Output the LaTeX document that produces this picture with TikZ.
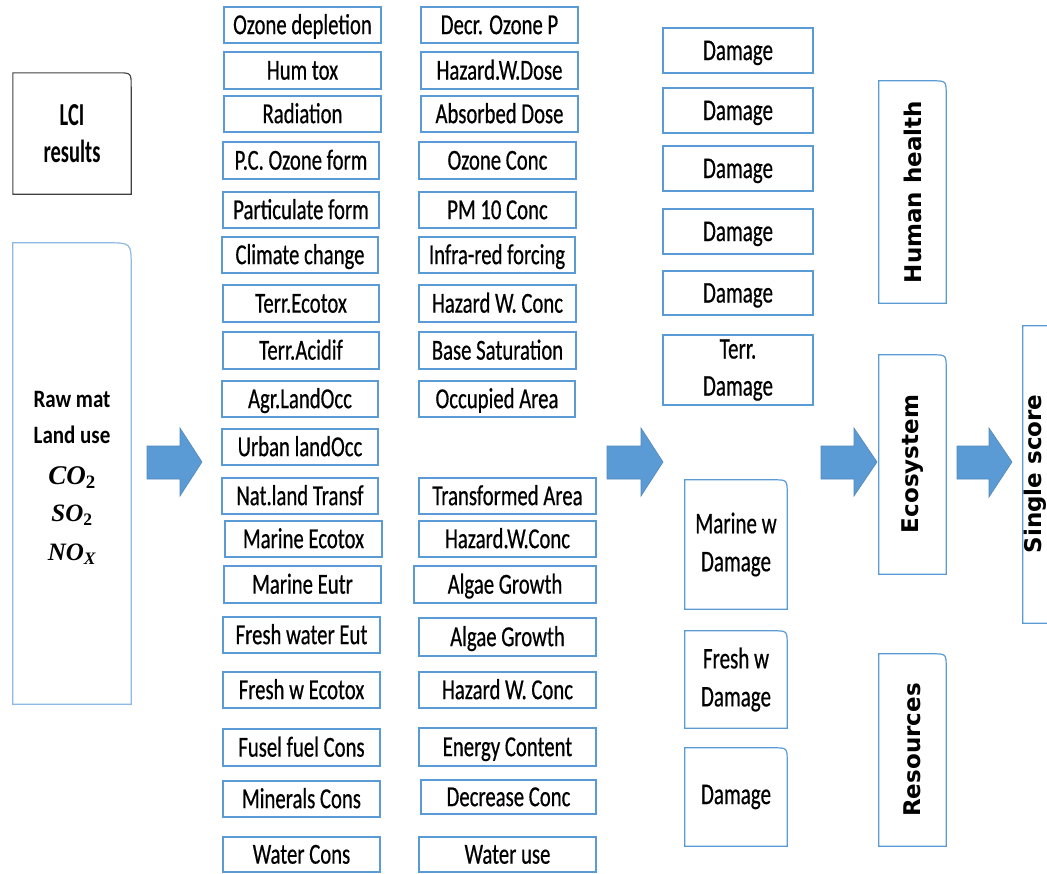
\documentclass[tikz,border=0pt]{standalone}
\usepackage{fontspec}
\setmainfont{Carlito}
\newfontfamily\colfont[FakeStretch=0.715,FakeBold=0.5]{Carlito}
\newfontfamily\dmgfont[FakeStretch=0.70,FakeBold=0.5]{Carlito}
\newfontfamily\lcifont[FakeStretch=0.64]{Carlito}
\newfontfamily\rawfont[FakeStretch=0.84]{Carlito}
\newfontfamily\chemfont{Liberation Serif}
\newfontfamily\rotfont{DejaVu Sans}
\usetikzlibrary{calc}
\definecolor{bbox}{HTML}{5B9BD5}
\definecolor{lightb}{HTML}{8DB9E2}
\definecolor{arrowblue}{HTML}{5B9BD5}
\definecolor{darkline}{HTML}{404040}
\tikzset{
  colbox/.style={draw=bbox, line width=1.2pt, inner sep=0pt, text height=18.3pt, text depth=0pt,
    font=\colfont\fontsize{29}{31}\selectfont},
  dmgbox/.style={draw=bbox, line width=1.2pt, inner sep=0pt, text height=19pt, text depth=0pt,
    font=\dmgfont\fontsize{30}{37}\selectfont},
  dmgmulti/.style={draw=bbox, line width=1.2pt, inner sep=0pt, align=center,
    font=\dmgfont\fontsize{30}{37}\selectfont},
  rshape/.style={inner sep=0pt},
  rline/.style={draw=bbox, line width=1.2pt},
  rlinelight/.style={draw=lightb, line width=1.2pt},
  rlinedark/.style={draw=darkline, line width=1.1pt},
  rottext/.style={rotate=90, inner sep=0pt, font=\rotfont\bfseries\fontsize{23}{25}\selectfont},
  blockarrow/.style={fill=arrowblue, draw=arrowblue!88!black, line width=0.6pt},
}
% box from pixel corners: style, x1, y1, x2, y2, name
\newcommand\pxbox[6]{\node[#1, minimum width={#4-#2}, minimum height={#5-#3}] (#6) at ({(#2+#4)/2},{(#3+#5)/2})}
% outline with rounded top-right corner
\newcommand\roundtr[3]{\draw[#3] (#1.south west) -- (#1.north west) -- ($(#1.north east)+(-#2,0)$) .. controls (#1.north east) .. ($(#1.north east)+(0,#2)$) -- (#1.south east) -- cycle;}
\newcommand\chem[2]{{\chemfont\bfseries\itshape #1\textsubscript{#2}}}
\begin{document}
\begin{tikzpicture}[x=1pt,y=-1pt]
\clip (0,0) rectangle (1047,873);
\fill[white] (0,0) rectangle (1047,873);

% ---- left boxes
\pxbox{rshape}{13}{73}{131}{194}{lci} [align=center, font=\lcifont\bfseries\fontsize{32}{37}\selectfont] {LCI\\results};
\roundtr{lci}{14}{rlinedark}
\pxbox{rshape}{13}{243}{131}{704}{raw} {};
\roundtr{raw}{24}{rlinelight}
\node[anchor=north, inner sep=0pt, align=center, font=\rawfont\bfseries\fontsize{25}{36}\selectfont] (rawtxt) at (72,391)
  {Raw mat\\Land use\\[5pt]\fontsize{27}{36}\selectfont\chem{CO}{\upshape 2}\\[1pt]\chem{SO}{\upshape 2}\\[3pt]\chem{NO}{X}};

% ---- column 1
\pxbox{colbox}{224}{7}{381}{43}{a1} {Ozone depletion};
\pxbox{colbox}{224}{52}{381}{89}{a2} {Hum tox};
\pxbox{colbox}{224}{96}{381}{132}{a3} {Radiation};
\pxbox{colbox}{223}{142}{379}{179}{a4} {P.C. Ozone form};
\pxbox{colbox}{223}{192}{379}{228}{a5} {Particulate form};
\pxbox{colbox}{222}{237}{378}{273}{a6} {Climate change};
\pxbox{colbox}{223}{285}{379}{322}{a7} {Terr.Ecotox};
\pxbox{colbox}{223}{332}{379}{369}{a8} {Terr.Acidif};
\pxbox{colbox}{222}{381}{378}{417}{a9} {Agr.LandOcc};
\pxbox{colbox}{222}{429}{378}{465}{a10} {Urban landOcc};
\pxbox{colbox}{222}{478}{378}{514}{a11} {Nat.land Transf};
\pxbox{colbox}{225}{521}{382}{557}{a12} {Marine Ecotox};
\pxbox{colbox}{224}{566}{381}{603}{a13} {Marine Eutr};
\pxbox{colbox}{223}{617}{380}{653}{a14} {Fresh water Eut};
\pxbox{colbox}{223}{672}{380}{708}{a15} {Fresh w Ecotox};
\pxbox{colbox}{223}{729}{380}{766}{a16} {Fusel fuel Cons};
\pxbox{colbox}{223}{781}{380}{817}{a17} {Minerals Cons};
\pxbox{colbox}{223}{837}{380}{872}{a18} {Water Cons};

% ---- column 2
\pxbox{colbox}{421}{7}{578}{43}{b1} {Decr. Ozone P};
\pxbox{colbox}{421}{52}{578}{89}{b2} {Hazard.W.Dose};
\pxbox{colbox}{421}{96}{578}{132}{b3} {Absorbed Dose};
\pxbox{colbox}{419}{142}{576}{179}{b4} {Ozone Conc};
\pxbox{colbox}{419}{192}{576}{228}{b5} {PM 10 Conc};
\pxbox{colbox}{419}{237}{575}{273}{b6} {Infra-red forcing};
\pxbox{colbox}{419}{285}{576}{322}{b7} {Hazard W. Conc};
\pxbox{colbox}{419}{332}{576}{369}{b8} {Base Saturation};
\pxbox{colbox}{419}{381}{575}{417}{b9} {Occupied Area};
\pxbox{colbox}{419}{478}{596}{514}{b11} {Transformed Area};
\pxbox{colbox}{419}{521}{596}{557}{b12} {Hazard.W.Conc};
\pxbox{colbox}{414}{566}{596}{603}{b13} {Algae Growth};
\pxbox{colbox}{419}{618}{596}{656}{b14} {Algae Growth};
\pxbox{colbox}{419}{672}{596}{708}{b15} {Hazard W. Conc};
\pxbox{colbox}{419}{728}{596}{766}{b16} {Energy Content};
\pxbox{colbox}{421}{780}{596}{814}{b17} {Decrease Conc};
\pxbox{colbox}{419}{837}{596}{872}{b18} {Water use};

% ---- damage column
\pxbox{dmgbox}{663}{28}{813}{73}{d1} {Damage};
\pxbox{dmgbox}{663}{88}{813}{133}{d2} {Damage};
\pxbox{dmgbox}{663}{146}{813}{191}{d3} {Damage};
\pxbox{dmgbox}{663}{209}{813}{254}{d4} {Damage};
\pxbox{dmgbox}{663}{271}{813}{315}{d5} {Damage};
\pxbox{dmgmulti}{663}{335}{813}{405}{d6} {Terr.\\Damage};
\pxbox{rshape}{685}{480}{787}{609}{e1} [align=center, font=\dmgfont\fontsize{30}{38}\selectfont] {Marine w\\Damage};
\roundtr{e1}{14}{rline}
\pxbox{rshape}{685}{631}{787}{728}{e2} [align=center, font=\dmgfont\fontsize{30}{38}\selectfont] {Fresh w\\Damage};
\roundtr{e2}{14}{rline}
\pxbox{rshape}{685}{748}{787}{846}{e3} [font=\dmgfont\fontsize{30}{38}\selectfont] {Damage};
\roundtr{e3}{14}{rline}

% ---- right column
\pxbox{rshape}{879}{81}{946}{303}{hh} {};
\roundtr{hh}{14}{rline}
\node[rottext] (hht) at (912.5,192) {Human health};
\pxbox{rshape}{879}{355}{946}{574}{eco} {};
\roundtr{eco}{14}{rline}
\node[rottext] (ecot) at (912.5,464) {Ecosystem};
\pxbox{rshape}{879}{654}{946}{846}{res} {};
\roundtr{res}{14}{rline}
\node[rottext] (rest) at (912.5,750) {Resources};
\pxbox{rshape}{1023}{326}{1089}{623}{ss} {};
\roundtr{ss}{14}{rline}
\node[rottext] (sst) at (1035,474) {Single score};

% ---- block arrows
\draw[blockarrow] (147,446) -- (180,446) -- (180,428) -- (202,462) -- (180,496) -- (180,479) -- (147,479) -- cycle;
\draw[blockarrow] (607,446) -- (641,446) -- (641,428) -- (663,462) -- (641,496) -- (641,479) -- (607,479) -- cycle;
\draw[blockarrow] (821,446) -- (854,446) -- (854,428) -- (877,462) -- (854,496) -- (854,479) -- (821,479) -- cycle;
\draw[blockarrow] (957,446) -- (989,446) -- (989,428) -- (1012,462) -- (989,497) -- (989,479) -- (957,479) -- cycle;
\end{tikzpicture}
\end{document}
